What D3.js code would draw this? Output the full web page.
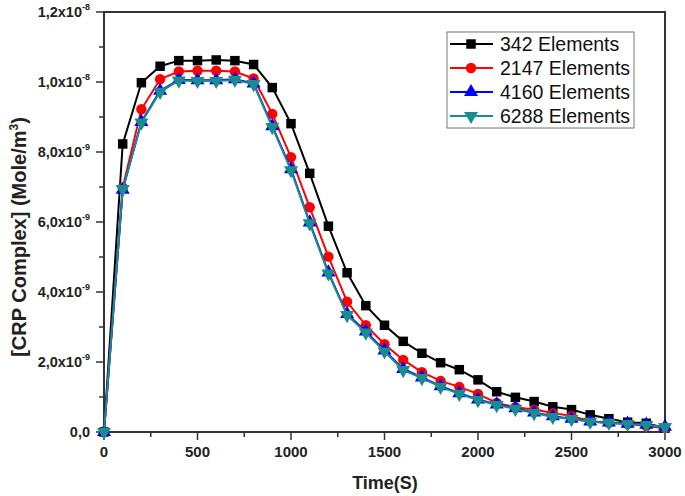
<!DOCTYPE html>
<html>
<head>
<meta charset="utf-8">
<script src="https://cdn.jsdelivr.net/npm/d3@7"></script>
<style>
body { margin: 0; background: #fff; }
svg { font-family: "Liberation Sans", Arial, sans-serif; }
</style>
</head>
<body>
<svg width="685" height="496"></svg>
<script>
// values in units of 1e-8 Mole/m3, one every 100 s
var times = d3.range(0, 3001, 100);
var names = ["342 Elements", "2147 Elements", "4160 Elements", "6288 Elements"];
var s342 = [0, 0.823, 0.998, 1.045, 1.061, 1.061, 1.063, 1.061, 1.050, 0.984, 0.881, 0.739, 0.588, 0.455, 0.361, 0.305, 0.259, 0.225, 0.198, 0.178, 0.149, 0.115, 0.099, 0.087, 0.072, 0.064, 0.049, 0.038, 0.028, 0.025, 0.011];
var s2147 = [0, 0.698, 0.922, 1.008, 1.030, 1.032, 1.032, 1.030, 1.010, 0.909, 0.785, 0.642, 0.501, 0.372, 0.305, 0.251, 0.206, 0.171, 0.146, 0.129, 0.109, 0.083, 0.071, 0.064, 0.054, 0.046, 0.031, 0.026, 0.023, 0.017, 0.011];
var s4160 = [0, 0.692, 0.886, 0.975, 1.006, 1.005, 1.005, 1.008, 0.996, 0.874, 0.751, 0.599, 0.456, 0.337, 0.287, 0.233, 0.180, 0.156, 0.131, 0.111, 0.093, 0.079, 0.068, 0.056, 0.045, 0.038, 0.030, 0.027, 0.024, 0.021, 0.015];
var s6288 = [0, 0.694, 0.884, 0.972, 1.004, 1.003, 1.003, 1.006, 0.994, 0.871, 0.748, 0.596, 0.453, 0.334, 0.284, 0.230, 0.177, 0.154, 0.129, 0.109, 0.091, 0.077, 0.066, 0.054, 0.043, 0.037, 0.029, 0.026, 0.023, 0.020, 0.014];
var xTicks = [0, 500, 1000, 1500, 2000, 2500, 3000];
var yTicks = [0, 2e-9, 4e-9, 6e-9, 8e-9, 1e-8, 1.2e-8];
var yLabels = [["0,0", ""], ["2,0x10", "-9"], ["4,0x10", "-9"], ["6,0x10", "-9"], ["8,0x10", "-9"], ["1,0x10", "-8"], ["1,2x10", "-8"]];

var colors = ["#000000", "#ff0000", "#0000ff", "#1a8c8c"];
var shapes = [d3.symbolSquare, d3.symbolCircle, d3.symbolTriangle, d3.symbolTriangle];
var series = [s342, s2147, s4160, s6288];

var svg = d3.select("svg");
var L = 104, R = 665, T = 12, B = 432;
var x = d3.scaleLinear().domain([0, 3000]).range([L, R]);
var y = d3.scaleLinear().domain([0, 1.2e-8]).range([B, T]);

var axisCol = "#333";

// minor ticks
svg.append("g").selectAll("line")
	.data(d3.range(250, 3000, 500))
	.enter().append("line")
	.attr("x1", function(d){ return x(d) }).attr("x2", function(d){ return x(d) })
	.attr("y1", B).attr("y2", B + 5)
	.style("stroke", axisCol).style("stroke-width", 1.5);
svg.append("g").selectAll("line")
	.data(d3.range(1e-9, 1.2e-8, 2e-9))
	.enter().append("line")
	.attr("y1", function(d){ return y(d) }).attr("y2", function(d){ return y(d) })
	.attr("x1", L).attr("x2", L - 5)
	.style("stroke", axisCol).style("stroke-width", 1.5);

// major ticks
svg.append("g").selectAll("line")
	.data(xTicks)
	.enter().append("line")
	.attr("x1", function(d){ return x(d) }).attr("x2", function(d){ return x(d) })
	.attr("y1", B).attr("y2", B + 8)
	.style("stroke", axisCol).style("stroke-width", 1.5);
svg.append("g").selectAll("line")
	.data(yTicks)
	.enter().append("line")
	.attr("y1", function(d){ return y(d) }).attr("y2", function(d){ return y(d) })
	.attr("x1", L).attr("x2", L - 8)
	.style("stroke", axisCol).style("stroke-width", 1.5);

// frame
svg.append("rect")
	.attr("x", L).attr("y", T).attr("width", R - L).attr("height", B - T)
	.style("fill", "none").style("stroke", axisCol).style("stroke-width", 2);

// tick labels
svg.append("g").selectAll("text")
	.data(xTicks)
	.enter().append("text")
	.attr("x", function(d){ return x(d) }).attr("y", B + 25)
	.attr("text-anchor", "middle")
	.style("font-size", "15px").style("font-weight", "bold").style("fill", "#222")
	.text(function(d){ return d });

var yl = svg.append("g").selectAll("text")
	.data(yTicks)
	.enter().append("text")
	.attr("x", L - 14).attr("y", function(d){ return y(d) + 5 })
	.attr("text-anchor", "end")
	.style("font-size", "14.5px").style("font-weight", "bold").style("fill", "#222");
yl.append("tspan").text(function(d, i){ return yLabels[i][0] });
yl.append("tspan")
	.attr("dy", -7).style("font-size", "9px")
	.text(function(d, i){ return yLabels[i][1] });

// axis titles
svg.append("text")
	.attr("x", 385).attr("y", 489)
	.attr("text-anchor", "middle")
	.style("font-size", "18px").style("font-weight", "bold").style("fill", "#222")
	.text("Time(S)");

var yt = svg.append("text")
	.attr("transform", "translate(26,237) rotate(-90)")
	.attr("text-anchor", "middle")
	.style("font-size", "20px").style("font-weight", "bold").style("fill", "#222");
yt.append("tspan").text("[CRP Complex] (Mole/m");
yt.append("tspan").attr("dy", -8).style("font-size", "12px").text("3");
yt.append("tspan").attr("dy", 8).text(")");

// lines and markers
var line = d3.line()
	.x(function(d, i){ return x(times[i]) })
	.y(function(d){ return y(d * 1e-8) });

function marker(i){
	return d3.symbol().type(shapes[i]).size(i == 0 ? 90 : 85)();
}

series.forEach(function(s, i){
	svg.append("path")
		.datum(s)
		.attr("d", line)
		.style("fill", "none")
		.style("stroke", colors[i])
		.style("stroke-width", 2);
	svg.append("g").selectAll("path")
		.data(s)
		.enter().append("path")
		.attr("d", marker(i))
		.attr("transform", function(d, j){
			return "translate(" + x(times[j]) + "," + y(d * 1e-8) + ")" + (i == 3 ? " rotate(180)" : "")
		})
		.style("fill", colors[i]);
});

// legend
var lg = svg.append("g");
lg.append("rect")
	.attr("x", 447).attr("y", 32).attr("width", 187).attr("height", 96)
	.style("fill", "#fff").style("stroke", "#777").style("stroke-width", 1);
names.forEach(function(n, i){
	var ly = 44 + i * 24;
	lg.append("line")
		.attr("x1", 450).attr("x2", 493).attr("y1", ly).attr("y2", ly)
		.style("stroke", colors[i]).style("stroke-width", 2);
	lg.append("path")
		.attr("d", marker(i))
		.attr("transform", "translate(471," + ly + ")" + (i == 3 ? " rotate(180)" : ""))
		.style("fill", colors[i]);
	lg.append("text")
		.attr("x", 500).attr("y", ly + 7)
		.style("font-size", "19.5px").style("fill", "#111")
		.text(n);
});
</script>
</body>
</html>
